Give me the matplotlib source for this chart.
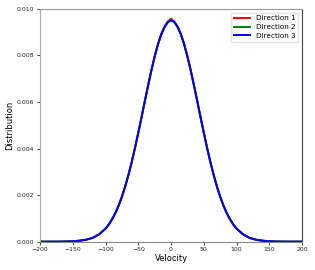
import numpy as np
import matplotlib
matplotlib.use("Agg")
import matplotlib.pyplot as plt
from matplotlib.ticker import FormatStrFormatter

# velocity bins (finer near the peak)
velocity = [-200, -190, -180, -170, -160, -150, -140, -130, -120, -110,
            -100, -95, -90, -85, -80, -75, -70, -65, -60, -55,
            -50, -45, -40, -35, -30, -25, -20, -15, -10, -5,
            0, 5, 10, 15, 20, 25, 30, 35, 40, 45,
            50, 55, 60, 65, 70, 75, 80, 85, 90, 95,
            100, 110, 120, 130, 140, 150, 160, 170, 180, 190, 200]

dir1 = [0.0, 0.0, 0.0, 0.000001, 0.000007, 0.000016, 0.00004, 0.00008, 0.00016, 0.00031,
        0.00056, 0.000735, 0.00096, 0.001225, 0.00155, 0.00193, 0.00237, 0.00287, 0.00342, 0.00403,
        0.00468, 0.00535, 0.00604, 0.00671, 0.00736, 0.00797, 0.00849, 0.00892, 0.00925, 0.00946,
        0.00958, 0.00944, 0.00924, 0.00892, 0.00848, 0.00796, 0.00736, 0.00671, 0.00604, 0.00535,
        0.00468, 0.00403, 0.00342, 0.00287, 0.00237, 0.00193, 0.00155, 0.001225, 0.00096, 0.000735,
        0.00056, 0.00031, 0.00016, 0.00008, 0.00004, 0.000016, 0.000007, 0.000001, 0.0, 0.0, 0.0]
dir2 = [0.0, 0.0, 0.0, 0.000001, 0.000007, 0.000016, 0.00004, 0.00008, 0.00016, 0.00031,
        0.00056, 0.000735, 0.00096, 0.001225, 0.00155, 0.00193, 0.00237, 0.00287, 0.00342, 0.00403,
        0.00468, 0.00535, 0.00604, 0.00671, 0.00736, 0.00796, 0.00847, 0.00890, 0.00922, 0.00944,
        0.00952, 0.00943, 0.00923, 0.00891, 0.00849, 0.00796, 0.00736, 0.00671, 0.00604, 0.00535,
        0.00468, 0.00403, 0.00342, 0.00287, 0.00237, 0.00193, 0.00155, 0.001225, 0.00096, 0.000735,
        0.00056, 0.00031, 0.00016, 0.00008, 0.00004, 0.000016, 0.000007, 0.000001, 0.0, 0.0, 0.0]
dir3 = [0.0, 0.0, 0.0, 0.000001, 0.000007, 0.000016, 0.00004, 0.00008, 0.00016, 0.00031,
        0.00056, 0.000735, 0.00096, 0.001225, 0.00155, 0.00193, 0.00237, 0.00287, 0.00342, 0.00403,
        0.00468, 0.00535, 0.00604, 0.00671, 0.00736, 0.00795, 0.00847, 0.00890, 0.00921, 0.00942,
        0.00951, 0.00945, 0.00922, 0.00891, 0.00848, 0.00796, 0.00736, 0.00671, 0.00604, 0.00535,
        0.00468, 0.00403, 0.00342, 0.00287, 0.00237, 0.00193, 0.00155, 0.001225, 0.00096, 0.000735,
        0.00056, 0.00031, 0.00016, 0.00008, 0.00004, 0.000016, 0.000007, 0.000001, 0.0, 0.0, 0.0]

labels = ["Direction 1", "Direction 2", "Direction 3"]
colors = ["#ff0000", "#008000", "#0000ff"]

fig = plt.figure(figsize=(3.15, 2.7), dpi=100)
ax = fig.add_axes([0.127, 0.105, 0.832, 0.862])

for y, lab, c in zip([dir1, dir2, dir3], labels, colors):
    ax.plot(velocity, y, color=c, lw=1.4, label=lab)

ax.set_xlim(-200, 200)
ax.set_ylim(0, 0.010)
ax.set_xticks(np.arange(-200, 201, 50))
ax.set_yticks(np.arange(0, 0.0101, 0.002))
ax.yaxis.set_major_formatter(FormatStrFormatter("%.3f"))
ax.tick_params(labelsize=4.4, length=2.5, width=0.6, pad=1.5, colors="#222222")

ax.set_xlabel("Velocity", fontsize=6, labelpad=1)
ax.set_ylabel("Distribution", fontsize=6, labelpad=2)

ax.spines["left"].set_color("#aaaaaa")
ax.spines["top"].set_color("#999999")
ax.spines["right"].set_color("#444444")
ax.spines["bottom"].set_color("#888888")
for s in ax.spines.values():
    s.set_linewidth(0.8)

ax.legend(loc="upper right", fontsize=5.2, handlelength=2.2, borderpad=0.4,
          labelspacing=0.35, frameon=True, fancybox=False, edgecolor="#dddddd")

fig.savefig("out.png", dpi=100)
